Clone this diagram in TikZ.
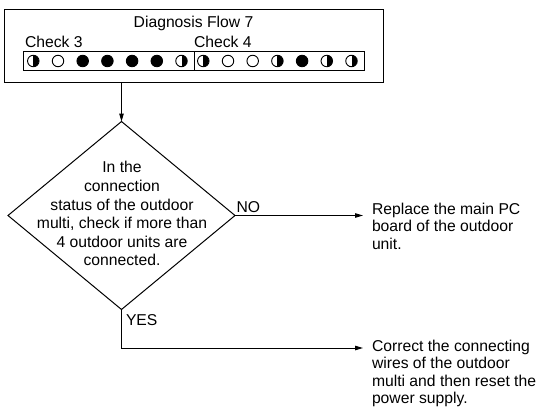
\documentclass[tikz,border=0pt]{standalone}
\usepackage{fontspec}
\setmainfont{Liberation Sans}
\usetikzlibrary{arrows.meta,shapes.geometric}
\begin{document}
\begin{tikzpicture}[x=1pt,y=-1pt,
  every node/.style={inner sep=0pt, outer sep=0pt},
  txt/.style={font=\fontsize{15.7}{17.5}\selectfont},
  frame/.style={draw, line width=1pt},
  led/.style={circle, draw, line width=0.9pt, minimum size=11.5pt, inner sep=0pt},
  ledon/.style={led, fill=black},
  ledoff/.style={led, fill=white},
  ledhalf/.style={led, path picture={\fill[black] (path picture bounding box.north) rectangle (path picture bounding box.south east);}},
  arr/.style={line width=1pt, -{Triangle[length=8pt,width=4.5pt]}},
  line/.style={line width=1pt}]
\useasboundingbox (0,0) rectangle (538,412);
% header box
\node[frame, minimum width=379pt, minimum height=73.5pt, anchor=north west] (box) at (4,9.3) {};
\node[txt, anchor=base] (title) at (193.5,28) {Diagnosis Flow 7};
\node[txt, anchor=base west] (c3) at (25,48) {Check 3};
\node[txt, anchor=base west] (c4) at (194,48) {Check 4};
\node[frame, minimum width=171pt, minimum height=19pt, anchor=north west] (leds3) at (23,51.5) {};
\node[frame, minimum width=170pt, minimum height=19pt, anchor=north west] (leds4) at (194,51.5) {};
% LEDs check 3
\node[ledhalf] (l1) at (33.3,61) {};
\node[ledoff]  (l2) at (58.0,61) {};
\node[ledon]   (l3) at (82.7,61) {};
\node[ledon]   (l4) at (107.4,61) {};
\node[ledon]   (l5) at (132.1,61) {};
\node[ledon]   (l6) at (156.8,61) {};
\node[ledhalf] (l7) at (181.5,61) {};
% LEDs check 4
\node[ledhalf] (l8)  at (203.3,61) {};
\node[ledoff]  (l9)  at (228.0,61) {};
\node[ledoff]  (l10) at (252.7,61) {};
\node[ledhalf] (l11) at (277.4,61) {};
\node[ledon]   (l12) at (302.1,61) {};
\node[ledhalf] (l13) at (326.8,61) {};
\node[ledhalf] (l14) at (351.5,61) {};
% decision
\node[diamond, draw, line width=1pt, minimum width=227pt, minimum height=188pt, inner sep=0pt] (dia) at (121.5,215.5) {};
\node[txt, font=\fontsize{15.7}{18.6}\selectfont, align=center, anchor=north] (q) at (122,161.5)
  {In the\\connection\\status of the outdoor\\multi, check if more than\\4 outdoor units are\\connected.};
% results
\node[txt, align=left, anchor=north west] (r1) at (372,203)
  {Replace the main PC\\board of the outdoor\\unit.};
\node[txt, align=left, anchor=north west] (r2) at (372,340)
  {Correct the connecting\\wires of the outdoor\\multi and then reset the\\power supply.};
\coordinate (noend) at (363,215.5);
\coordinate (yesend) at (363,348);
% connectors
\draw[arr] (box.south -| dia.north) -- (dia.north);
\draw[arr] (dia.east) -- (noend);
\draw[arr] (dia.south) |- (yesend);
\node[txt, anchor=base west] (no) at (236.5,212) {NO};
\node[txt, anchor=base west] (yes) at (126,325) {YES};
\end{tikzpicture}
\end{document}
